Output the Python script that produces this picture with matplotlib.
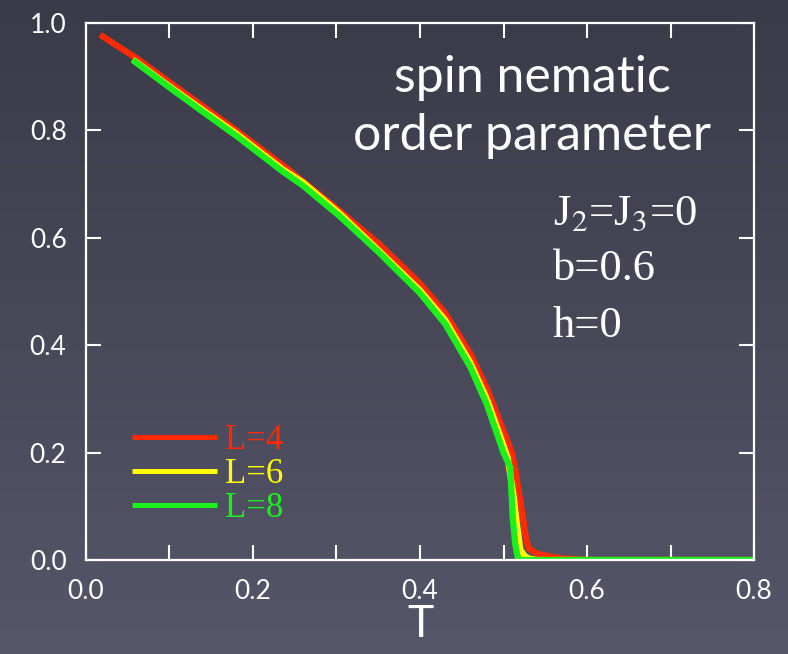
import numpy as np
import matplotlib
matplotlib.use("Agg")
import matplotlib.pyplot as plt
from matplotlib.ticker import MultipleLocator

# order parameter vs temperature for three system sizes
T_L4 = [0.017, 0.06, 0.10, 0.14, 0.18, 0.24, 0.30, 0.35, 0.40, 0.43, 0.46, 0.48,
        0.50, 0.51, 0.515, 0.52, 0.523, 0.527, 0.53, 0.54, 0.55, 0.57, 0.60, 0.70, 0.80]
m_L4 = [0.978, 0.935, 0.89, 0.845, 0.80, 0.73, 0.655, 0.59, 0.515, 0.46, 0.385, 0.32,
        0.24, 0.20, 0.16, 0.11, 0.08, 0.04, 0.022, 0.012, 0.008, 0.003, 0.0, 0.0, 0.0]

T_L6 = [0.056, 0.10, 0.137, 0.18, 0.236, 0.26, 0.304, 0.35, 0.40, 0.43, 0.46, 0.48,
        0.495, 0.505, 0.512, 0.515, 0.52, 0.525, 0.53, 0.54, 0.60, 0.70, 0.80]
m_L6 = [0.932, 0.882, 0.841, 0.794, 0.727, 0.703, 0.645, 0.577, 0.502, 0.447, 0.368, 0.30,
        0.235, 0.19, 0.12, 0.08, 0.02, 0.008, 0.003, 0.0, 0.0, 0.0, 0.0]

T_L8 = [0.056, 0.10, 0.137, 0.18, 0.236, 0.26, 0.304, 0.35, 0.40, 0.43, 0.46, 0.48,
        0.492, 0.50, 0.508, 0.511, 0.514, 0.517, 0.52, 0.60, 0.70, 0.80]
m_L8 = [0.931, 0.88, 0.838, 0.79, 0.723, 0.697, 0.64, 0.574, 0.497, 0.44, 0.36, 0.29,
        0.236, 0.20, 0.173, 0.08, 0.03, 0.005, 0.0, 0.0, 0.0, 0.0]

labels = ["L=4", "L=6", "L=8"]
colors = ["#ff2a00", "#ffff00", "#1cf01c"]

fig = plt.figure(figsize=(7.88, 6.54), dpi=100)

# dark slide background gradient
bg = fig.add_axes([0, 0, 1, 1], zorder=-10)
grad = np.linspace(0, 1, 256).reshape(-1, 1)
top = np.array([58, 58, 72]) / 255
bot = np.array([86, 86, 106]) / 255
img = top + (bot - top) * grad[:, :, None]
bg.imshow(img, aspect="auto", extent=[0, 1, 0, 1])
bg.axis("off")

ax = fig.add_axes([0.1091, 0.1437, 0.8478, 0.8211])
ax.patch.set_alpha(0)

for T, m, c, lab in zip([T_L4, T_L6, T_L8], [m_L4, m_L6, m_L8], colors, labels):
    ax.plot(T, m, color=c, lw=4.5, label=lab, solid_capstyle="butt")

ax.set_xlim(0, 0.8)
ax.set_ylim(0, 1.0)
ax.xaxis.set_minor_locator(MultipleLocator(0.1))
ax.set_xticks([0.0, 0.2, 0.4, 0.6, 0.8])
ax.set_xticklabels(["0.0", "0.2", "0.4", "0.6", "0.8"])
ax.set_yticks([0.0, 0.2, 0.4, 0.6, 0.8, 1.0])
ax.set_yticklabels(["0.0", "0.2", "0.4", "0.6", "0.8", "1.0"])

for s in ax.spines.values():
    s.set_color("white")
    s.set_linewidth(1.6)
ax.tick_params(which="both", direction="in", length=11, width=1.5, color="white",
               top=True, right=True, labelcolor="white", labelsize=19)
ax.tick_params(axis="x", which="major", pad=14)
ax.tick_params(axis="y", which="major", pad=14)
for lbl in ax.get_xticklabels() + ax.get_yticklabels():
    lbl.set_family("Lato")

ax.set_xlabel("T", color="white", fontsize=32, family="Lato", labelpad=0)

leg = ax.legend(loc="upper left", bbox_to_anchor=(0.069, 0.253), frameon=False,
                handlelength=2.45, handletextpad=0.22, labelspacing=0.03,
                borderpad=0, borderaxespad=0,
                prop={"family": "Liberation Serif", "size": 25}, labelcolor="linecolor")
for h in leg.get_lines():
    h.set_linewidth(3.6)

ax.text(0.668, 0.8715, "spin nematic", transform=ax.transAxes, ha="center",
        va="baseline", color="white", fontsize=36, family="Lato")
ax.text(0.668, 0.7635, "order parameter", transform=ax.transAxes, ha="center",
        va="baseline", color="white", fontsize=36, family="Lato")

for s, yy in zip(["J$_2$=J$_3$=0", "b=0.6", "h=0"], [0.6238, 0.5214, 0.4153]):
    ax.text(0.699, yy, s, transform=ax.transAxes, ha="left", va="baseline",
            color="white", fontsize=32, family="Liberation Serif",
            math_fontfamily="stix")

fig.savefig("out.png", dpi=100)
